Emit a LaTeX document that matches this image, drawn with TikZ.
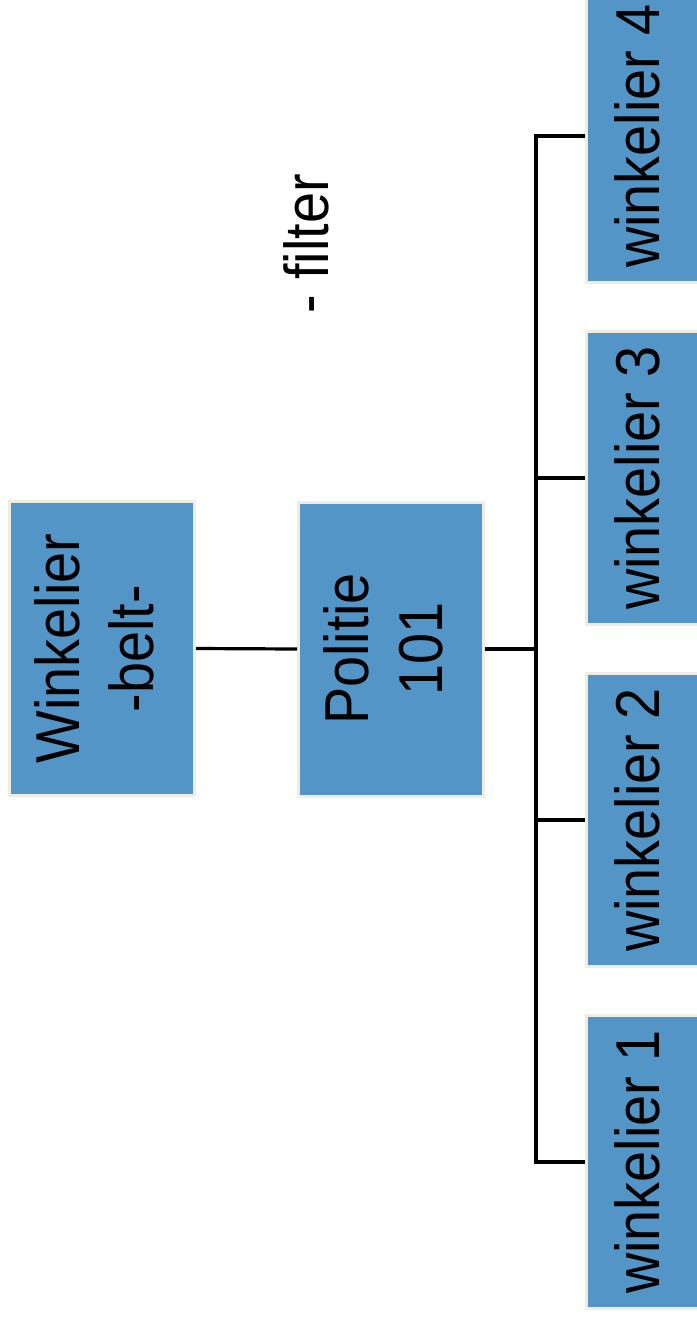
\documentclass[tikz,border=0pt]{standalone}
\usepackage{fontspec}
\setmainfont{Liberation Sans}
\usepackage{graphicx}
\definecolor{boxblue}{RGB}{84,149,200}
\definecolor{boxedge}{RGB}{240,236,226}
\newcommand{\rottext}[1]{\rotatebox{90}{\scalebox{0.9}[1]{\begin{tabular}{@{}c@{}}#1\end{tabular}}}}
\begin{document}
\begin{tikzpicture}[x=1pt,y=-1pt,
  box/.style={draw=boxedge, line width=3pt, fill=boxblue, inner sep=0pt, text=black,
    font=\fontsize{62}{74}\selectfont},
  bigbox/.style={box, minimum width=185pt, minimum height=294pt},
  leafbox/.style={box, minimum width=117pt, minimum height=293pt},
  conn/.style={line width=3.2pt, black}]
\useasboundingbox (0,0) rectangle (696,1317);
\node[bigbox] (a) at (102,648.5) {\rottext{Winkelier\\-belt-}\hspace{6pt}};
\node[bigbox] (b) at (391,649) {\rottext{Politie\\101}\hspace{4pt}};
\node[leafbox] (l4) at (645,136) {\rottext{winkelier 4}\hspace{5pt}};
\node[leafbox] (l3) at (645,478) {\rottext{winkelier 3}\hspace{5pt}};
\node[leafbox] (l2) at (645,820) {\rottext{winkelier 2}\hspace{5pt}};
\node[leafbox] (l1) at (645,1162) {\rottext{winkelier 1}\hspace{5pt}};
\node[inner sep=0pt, font=\fontsize{62}{74}\selectfont] (filter) at (306,244) {\rotatebox{90}{\scalebox{0.9}[1]{- filter}}};
\coordinate (jb) at (536,649);
\coordinate (j4) at (536,136);
\coordinate (j3) at (536,478);
\coordinate (j2) at (536,820);
\coordinate (j1) at (536,1162);
\draw[conn] (a.east) -- (b.west);
\draw[conn] (b.east) -- (jb);
\draw[conn] (l4.west) -- (j4) -- (j1) -- (l1.west);
\draw[conn] (j3) -- (l3.west);
\draw[conn] (j2) -- (l2.west);
\end{tikzpicture}
\end{document}
